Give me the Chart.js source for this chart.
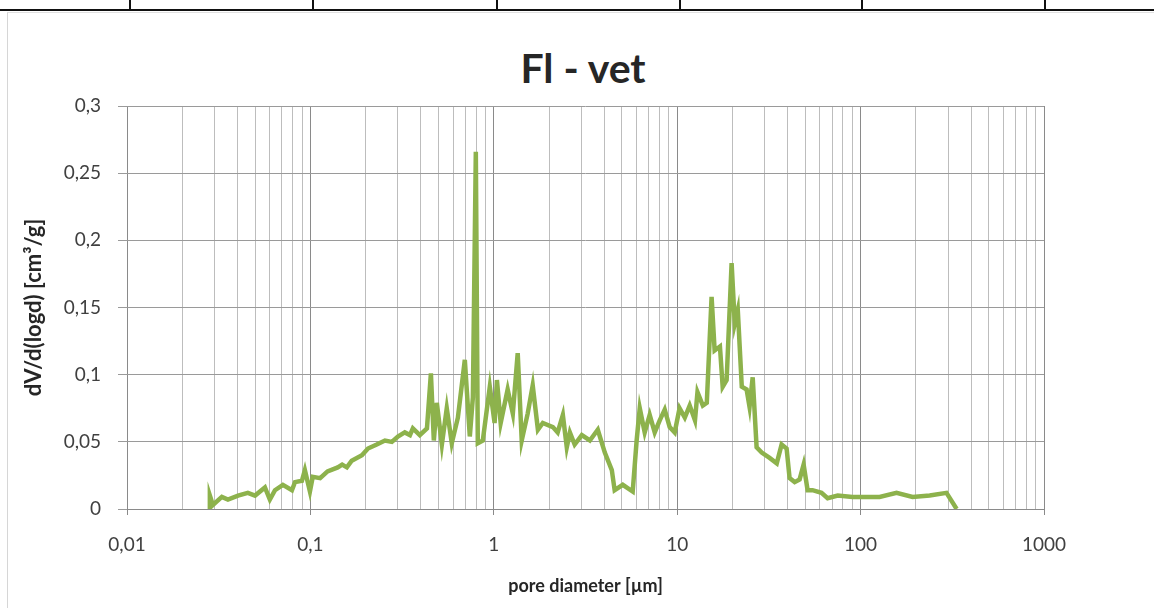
<!DOCTYPE html>
<html>
<head>
<meta charset="utf-8">
<script src="https://cdn.jsdelivr.net/npm/chart.js@4/dist/chart.umd.min.js"></script>
<style>
    body { margin: 0; width: 1154px; height: 608px; overflow: hidden; background: #fff; position: relative; }
    .table-row { position: absolute; left: 0; top: 0; width: 1154px; height: 9px; border-bottom: 2px solid #111; }
    .table-row span { position: absolute; top: 0; width: 2px; height: 9px; background: #111; }
    .frame { position: absolute; left: 7px; top: 12px; width: 1147px; height: 596px; border-left: 1px solid #d6d6d6; border-top: 1px solid #e0e0e0; }
    .title { position: absolute; left: 383px; width: 400px; top: 43px; line-height: 50px; text-align: center; font: bold 41px Lato, sans-serif; color: #262626; }
    canvas { position: absolute; left: 0; top: 0; }
</style>
</head>
<body>
<div class="table-row">
    <span style="left:129px"></span><span style="left:312px"></span><span style="left:496px"></span>
    <span style="left:679px"></span><span style="left:861px"></span><span style="left:1044px"></span>
</div>
<div class="frame"></div>
<div class="title">Fl - vet</div>
<canvas id="chart" width="1154" height="608"></canvas>
<script>
// pore diameter [µm] and dV/d(logd) [cm3/g]
const diameters = [
    0.0280, 0.0283, 0.0294, 0.0329, 0.0355, 0.0403, 0.0456, 0.0499, 0.0565, 0.0601,
    0.0641, 0.0708, 0.0793, 0.0824, 0.0899, 0.0933, 0.0994, 0.103, 0.113, 0.124,
    0.141, 0.149, 0.158, 0.168, 0.191, 0.206, 0.230, 0.255, 0.278, 0.300,
    0.327, 0.349, 0.362, 0.395, 0.432, 0.454, 0.471, 0.489, 0.521, 0.554,
    0.590, 0.637, 0.695, 0.740, 0.769, 0.798, 0.818, 0.871, 0.951, 1.01,
    1.04, 1.09, 1.19, 1.27, 1.35, 1.42, 1.53, 1.63, 1.74, 1.85,
    2.10, 2.23, 2.38, 2.50, 2.60, 2.76, 3.02, 3.34, 3.69, 4.03,
    4.40, 4.56, 5.05, 5.72, 6.01, 6.25, 6.65, 7.08, 7.54, 8.03,
    8.55, 9.10, 9.69, 10.3, 11.0, 11.7, 12.5, 12.9, 13.8, 14.5,
    15.4, 16.0, 17.1, 17.7, 18.6, 19.8, 20.6, 21.4, 22.5, 23.9,
    24.8, 25.8, 27.1, 28.9, 31.9, 34.9, 37.1, 39.5, 41.0, 43.7,
    46.5, 48.9, 51.4, 54.7, 61.2, 66.1, 75.0, 90.4, 108, 127,
    157, 192, 238, 294, 334
];
const dvdlogd = [
    0, 0.010, 0.003, 0.009, 0.007, 0.010, 0.012, 0.010, 0.016, 0.007,
    0.014, 0.018, 0.014, 0.020, 0.021, 0.029, 0.013, 0.024, 0.023, 0.028,
    0.031, 0.033, 0.031, 0.036, 0.040, 0.045, 0.048, 0.051, 0.050, 0.054,
    0.057, 0.055, 0.060, 0.055, 0.060, 0.101, 0.051, 0.079, 0.048, 0.075,
    0.049, 0.068, 0.111, 0.054, 0.083, 0.266, 0.049, 0.051, 0.091, 0.064,
    0.096, 0.064, 0.089, 0.071, 0.116, 0.051, 0.071, 0.092, 0.059, 0.064,
    0.061, 0.057, 0.070, 0.046, 0.057, 0.048, 0.055, 0.051, 0.059, 0.042,
    0.029, 0.014, 0.018, 0.013, 0.051, 0.075, 0.057, 0.070, 0.057, 0.066,
    0.074, 0.061, 0.057, 0.075, 0.068, 0.077, 0.066, 0.087, 0.077, 0.079,
    0.158, 0.118, 0.121, 0.091, 0.096, 0.183, 0.138, 0.148, 0.091, 0.089,
    0.076, 0.098, 0.046, 0.042, 0.038, 0.034, 0.048, 0.045, 0.023, 0.020,
    0.022, 0.033, 0.014, 0.014, 0.012, 0.008, 0.010, 0.009, 0.009, 0.009,
    0.012, 0.009, 0.010, 0.012, 0
];

const xMajorTicks = [0.01, 0.1, 1, 10, 100, 1000];
const xTickLabels = ['0,01', '0,1', '1', '10', '100', '1000'];
const yTickLabels = ['0', '0,05', '0,1', '0,15', '0,2', '0,25', '0,3'];

const lineGreen = '#8db24c';
const tickFont = { family: 'Lato, sans-serif', size: 19 };

const isMajor = (v) => xMajorTicks.some((m) => Math.abs(v - m) < m * 1e-6);

document.addEventListener('DOMContentLoaded', () => {
    const points = diameters.map((d, i) => ({ x: d, y: dvdlogd[i] }));

    new Chart(document.getElementById('chart'), {
        type: 'line',
        data: {
            datasets: [{
                data: points,
                borderColor: lineGreen,
                borderWidth: 4.5,
                pointRadius: 0,
                tension: 0,
                fill: false,
            }],
        },
        options: {
            responsive: false,
            animation: false,
            devicePixelRatio: 1,
            layout: { padding: { top: 106, right: 110, bottom: 0, left: 0 } },
            plugins: { legend: { display: false }, tooltip: { enabled: false } },
            scales: {
                x: {
                    type: 'logarithmic',
                    min: 0.01,
                    max: 1000,
                    afterBuildTicks: (scale) => {
                        const ticks = [];
                        xMajorTicks.forEach((m, i) => {
                            ticks.push({ value: m });
                            if (i < xMajorTicks.length - 1) {
                                for (let k = 2; k <= 9; k++) ticks.push({ value: m * k });
                            }
                        });
                        scale.ticks = ticks;
                    },
                    afterFit: (scale) => { scale.height = 99; },
                    ticks: {
                        autoSkip: false,
                        maxRotation: 0,
                        padding: 18,
                        color: '#404040',
                        font: tickFont,
                        callback: (value) => {
                            const idx = xMajorTicks.findIndex((m) => Math.abs(value - m) < m * 1e-6);
                            return idx >= 0 ? xTickLabels[idx] : '';
                        },
                    },
                    grid: {
                        color: (ctx) => (ctx.tick && isMajor(ctx.tick.value) ? '#8a8a8a' : '#bdbdbd'),
                        tickColor: (ctx) => (ctx.tick && isMajor(ctx.tick.value) ? '#8a8a8a' : 'rgba(0,0,0,0)'),
                        tickLength: 6,
                        lineWidth: 1,
                    },
                    border: { color: '#8a8a8a', width: 1 },
                    title: {
                        display: true,
                        text: 'pore diameter [µm]',
                        color: '#262626',
                        font: { family: 'Lato, sans-serif', size: 18, weight: 'bold' },
                        padding: { top: 0, bottom: 11 },
                    },
                },
                y: {
                    min: 0,
                    max: 0.3,
                    afterFit: (scale) => { scale.width = 127; },
                    ticks: {
                        stepSize: 0.05,
                        padding: 17,
                        color: '#404040',
                        font: tickFont,
                        callback: (value) => yTickLabels[Math.round(value / 0.05)],
                    },
                    grid: {
                        color: '#9a9a9a',
                        tickColor: '#9a9a9a',
                        tickLength: 9,
                        lineWidth: 1,
                    },
                    border: { display: false },
                    title: {
                        display: true,
                        text: 'dV/d(logd) [cm³/g]',
                        color: '#262626',
                        font: { family: 'Lato, sans-serif', size: 22, weight: 'bold' },
                        padding: { top: 21, bottom: 0 },
                    },
                },
            },
        },
    });
});
</script>
</body>
</html>
